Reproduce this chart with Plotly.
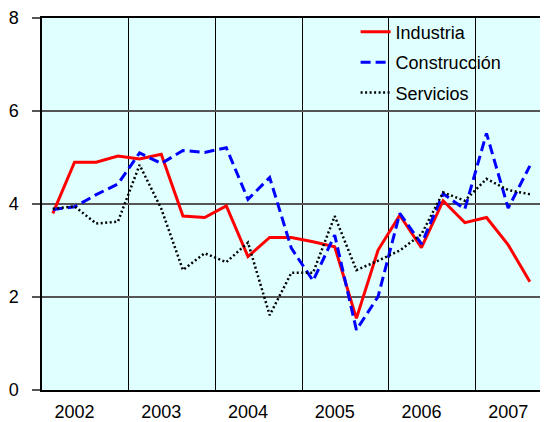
import plotly.graph_objects as go

years = ["2002", "2003", "2004", "2005", "2006", "2007"]
quarters = list(range(23))  # 2002Q1 .. 2007Q3

industria = [3.80, 4.90, 4.90, 5.03, 4.97, 5.07, 3.74, 3.71, 3.96, 2.87, 3.28, 3.28,
             3.19, 3.08, 1.54, 3.01, 3.76, 3.06, 4.07, 3.60, 3.71, 3.12, 2.33]
construccion = [3.88, 3.94, 4.20, 4.43, 5.10, 4.87, 5.15, 5.11, 5.21, 4.10, 4.57, 3.05,
                2.35, 3.33, 1.29, 2.01, 3.80, 3.14, 4.22, 3.89, 5.52, 3.91, 4.82]
servicios = [3.90, 3.95, 3.58, 3.62, 4.84, 3.90, 2.58, 2.94, 2.75, 3.17, 1.61, 2.52,
             2.52, 3.74, 2.58, 2.78, 3.00, 3.35, 4.25, 4.07, 4.54, 4.30, 4.21]

year_label_pos = [1, 5, 9, 13, 17, 21]
year_bounds = [3.5, 7.5, 11.5, 15.5, 19.5]

fig = go.Figure()
fig.add_trace(go.Scatter(x=quarters, y=industria, mode="lines", name="Industria",
                         legendgroup="a",
                         line=dict(color="#FF0000", width=3)))
fig.add_trace(go.Scatter(x=quarters, y=construccion, mode="lines", name="Construcción",
                         legendgroup="b",
                         line=dict(color="#0000FF", width=3, dash="10px,5px")))
fig.add_trace(go.Scatter(x=quarters, y=servicios, mode="lines", name="Servicios",
                         legendgroup="c",
                         line=dict(color="#000000", width=2.5, dash="2px,2.5px")))

font = dict(family="Liberation Sans, Arial, sans-serif", size=18, color="#000000")

fig.update_layout(
    width=540, height=414,
    margin=dict(l=34, r=1, t=10, b=32, autoexpand=False),
    paper_bgcolor="#FFFFFF",
    plot_bgcolor="#E0FFFF",
    font=font,
    showlegend=True,
    legend=dict(x=0.621, y=1.012, xanchor="left", yanchor="top",
                bgcolor="rgba(0,0,0,0)", borderwidth=0,
                font=font, tracegroupgap=4),
    xaxis=dict(
        range=[-0.5, 22.79], automargin=False,
        tickmode="array", tickvals=year_label_pos, ticktext=years,
        showgrid=False, zeroline=False,
        ticks="", ticklabelstandoff=5,
        showline=True, linecolor="#000000", linewidth=1.5, mirror=True,
        minor=dict(tickmode="array", tickvals=year_bounds, showgrid=True,
                   gridcolor="#000000", gridwidth=1, ticks=""),
    ),
    yaxis=dict(
        range=[0, 8], tickmode="array", tickvals=[0, 2, 4, 6, 8],
        automargin=False,
        showgrid=True, gridcolor="#555555", gridwidth=1.5,
        zeroline=False,
        ticks="outside", ticklen=8, tickcolor="#555555", tickwidth=1.5,
        ticklabelstandoff=10,
        showline=True, linecolor="#000000", linewidth=1.5,
    ),
)

fig.write_html("out.html")
